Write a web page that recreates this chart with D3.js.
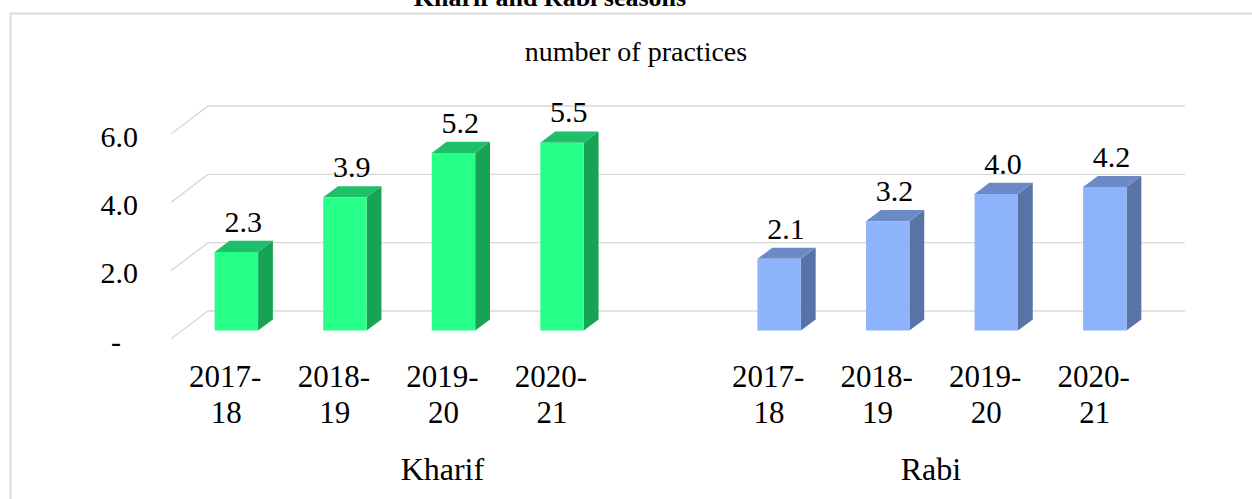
<!DOCTYPE html>
<html>
<head>
<meta charset="utf-8">
<script src="https://cdn.jsdelivr.net/npm/d3@7"></script>
<style>
  html, body { margin: 0; padding: 0; background: #fff; }
  svg { display: block; }
  text { font-family: "Liberation Serif", "Times New Roman", serif; fill: #000; }
</style>
</head>
<body>
<svg id="chart" width="1252" height="499"></svg>
<script>
// ---- data ----
const groups = ["Kharif", "Rabi"];
const categories = ["2017-18", "2018-19", "2019-20", "2020-21"];
const kharifValues = [2.3, 3.9, 5.2, 5.5];
const rabiValues = [2.1, 3.2, 4.0, 4.2];
const yTickValues = [0, 2, 4, 6];
const yTickLabels = ["-", "2.0", "4.0", "6.0"];
const chartTitle = "Kharif and Rabi seasons";
const axisTitle = "number of practices";

// slots: Kharif has a trailing empty category (as in source chart)
const slots = [];
categories.forEach(c => slots.push({group: "Kharif", cat: c}));
slots.push({group: "Kharif", cat: ""});
categories.forEach(c => slots.push({group: "Rabi", cat: c}));

const bars = [];
categories.forEach((c, i) => bars.push({key: "Kharif|" + c, group: "Kharif", cat: c, value: kharifValues[i]}));
categories.forEach((c, i) => bars.push({key: "Rabi|" + c, group: "Rabi", cat: c, value: rabiValues[i]}));

const colors = {
  Kharif: {front: "#26FF88", top: "#1DC068", side: "#17A256"},
  Rabi:   {front: "#8DB3FA", top: "#6C8AC5", side: "#5A73A6"}
};

const svg = d3.select("#chart");

// 3D projection (depth offsets)
const DX = 37, DY = -28;
const x = d3.scaleBand().domain(slots.map(s => s.group + "|" + s.cat)).range([171, 1148]).padding(0);
const y = d3.scaleLinear().domain([0, 6]).range([339, 134]);
const P = (px, v, z) => [px + z * DX, y(v) + z * DY];

// chart border
svg.append("path")
  .attr("d", "M10.5,499 L10.5,13.5 L1252,13.5")
  .attr("fill", "none").attr("stroke", "#D9D9D9").attr("stroke-width", 1.8);

// title (clipped at top, as in the source)
svg.append("text").attr("x", 550).attr("y", 6).attr("text-anchor", "middle")
  .style("font-size", "26px").style("font-weight", "bold").text(chartTitle);
svg.append("text").attr("x", 636).attr("y", 61).attr("text-anchor", "middle")
  .style("font-size", "28px").text(axisTitle);

// gridlines: side wall diagonal + back wall
const x0 = x.range()[0], x1 = x.range()[1];
const grid = svg.append("g").attr("fill", "none").attr("stroke", "#D9D9D9").attr("stroke-width", 1.4);
yTickValues.forEach(v => {
  const a = P(x0, v, 0), b = P(x0, v, 1), c = P(x1, v, 1);
  grid.append("path").attr("d", `M${a[0]},${a[1]}L${b[0]},${b[1]}L${c[0]},${c[1]}`);
});

// y tick labels
svg.append("g").selectAll("text").data(yTickValues).join("text")
  .attr("x", (d, i) => yTickLabels[i] === "-" ? 121 : 138)
  .attr("y", d => y(d) + 12.5)
  .attr("text-anchor", "end")
  .style("font-size", "30px")
  .text((d, i) => yTickLabels[i]);

// bars
const Z0 = 0.3, Z1 = 0.7, BW = 0.4;
const barG = svg.append("g");
bars.forEach(b => {
  const bw = x.bandwidth() * BW;
  const cx = x(b.key) + x.bandwidth() / 2;
  const l = cx - bw / 2, r = cx + bw / 2;
  const col = colors[b.group];
  const pts = (arr) => arr.map(p => p.join(",")).join(" ");
  // side face
  barG.append("polygon").attr("fill", col.side)
    .attr("points", pts([P(r, 0, Z0), P(r, b.value, Z0), P(r, b.value, Z1), P(r, 0, Z1)]));
  // top face
  barG.append("polygon").attr("fill", col.top)
    .attr("points", pts([P(l, b.value, Z0), P(r, b.value, Z0), P(r, b.value, Z1), P(l, b.value, Z1)]));
  // front face
  barG.append("polygon").attr("fill", col.front)
    .attr("points", pts([P(l, 0, Z0), P(r, 0, Z0), P(r, b.value, Z0), P(l, b.value, Z0)]));
  // value label
  const t = P(cx, b.value, Z1);
  barG.append("text").attr("x", t[0] - 8).attr("y", t[1] - 9)
    .attr("text-anchor", "middle").style("font-size", "30px")
    .text(b.value.toFixed(1));
});

// category labels (two lines)
const catG = svg.append("g");
slots.filter(s => s.cat !== "").forEach(s => {
  const cx = x(s.group + "|" + s.cat) + x.bandwidth() / 2;
  const parts = s.cat.split("-");
  const t = catG.append("text").attr("text-anchor", "middle").style("font-size", "31px");
  t.append("tspan").attr("x", cx).attr("y", 387).text(parts[0] + "-");
  t.append("tspan").attr("x", cx + 1).attr("y", 423).text(parts[1]);
});

// group labels
groups.forEach(g => {
  const keys = slots.filter(s => s.group === g).map(s => s.group + "|" + s.cat);
  const gx = (x(keys[0]) + x(keys[keys.length - 1]) + x.bandwidth()) / 2;
  svg.append("text").attr("x", gx).attr("y", 480).attr("text-anchor", "middle")
    .style("font-size", "32px").text(g);
});
</script>
</body>
</html>
